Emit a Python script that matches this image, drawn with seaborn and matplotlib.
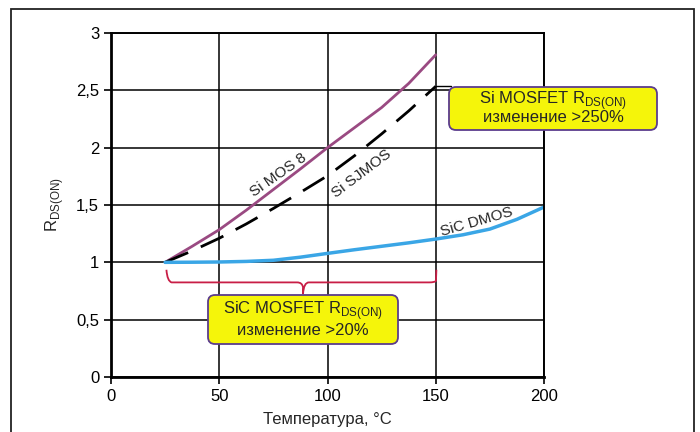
import numpy as np
import pandas as pd
import seaborn as sns
import matplotlib.pyplot as plt
from matplotlib.patches import FancyBboxPatch, Rectangle
from matplotlib.path import Path
from matplotlib.patches import PathPatch
from matplotlib.transforms import IdentityTransform

# данные
temp_si = [25, 37.5, 50, 62.5, 75, 87.5, 100, 112.5, 125, 137.5, 150]
si_mos8 = [1.0, 1.14, 1.285, 1.455, 1.635, 1.815, 2.0, 2.175, 2.35, 2.56, 2.81]
si_sjmos = [1.0, 1.1, 1.21, 1.335, 1.47, 1.61, 1.755, 1.93, 2.12, 2.32, 2.535]
temp_sic = [25, 37.5, 50, 62.5, 75, 87.5, 100, 112.5, 125, 137.5, 150, 162.5, 175, 187.5, 200]
sic_dmos = [1.0, 1.001, 1.003, 1.008, 1.018, 1.045, 1.078, 1.11, 1.14, 1.17, 1.203,
            1.24, 1.29, 1.375, 1.482]
x_ticks = [0, 50, 100, 150, 200]
y_ticks = [0, 0.5, 1, 1.5, 2, 2.5, 3]
y_ticklabels = ['0', '0,5', '1', '1,5', '2', '2,5', '3']

sns.set_style('white')
plt.rcParams['font.family'] = ['Liberation Sans', 'DejaVu Sans']

W, H = 700, 432
fig = plt.figure(figsize=(7, 4.32), dpi=100)
ax = fig.add_axes([111 / W, 1 - 377 / H, 433 / W, 344 / H])

# рамка вокруг рисунка
fig.patches.append(Rectangle((11 / W, -0.1), 683 / W, 1.1 - 9 / H, transform=fig.transFigure,
                             fill=False, ec='#222222', lw=1.3))

df_si = pd.DataFrame({'t': temp_si, 'mos8': si_mos8, 'sj': si_sjmos})
df_sic = pd.DataFrame({'t': temp_sic, 'dmos': sic_dmos})

sns.lineplot(data=df_si, x='t', y='mos8', ax=ax, color='#9a4a82', lw=2)
sns.lineplot(data=df_si, x='t', y='sj', ax=ax, color='black', lw=2)
ax.lines[-1].set_dashes([9, 5])
sns.lineplot(data=df_sic, x='t', y='dmos', ax=ax, color='#3aa6e6', lw=2.5)

ax.set_xlim(0, 200)
ax.set_ylim(0, 3)
ax.set_xticks(x_ticks)
ax.set_yticks(y_ticks)
ax.set_yticklabels(y_ticklabels)
ax.grid(True, color='black', lw=1.1)
ax.set_axisbelow(True)
for s in ax.spines.values():
    s.set_color('black')
    s.set_linewidth(1.4)
ax.spines['left'].set_linewidth(2)
ax.spines['bottom'].set_linewidth(2)
ax.tick_params(axis='both', direction='out', length=5, width=1.2, labelsize=12, colors='black',
               left=True, bottom=True)
ax.set_xlabel('Температура, °C', fontsize=12, labelpad=6)
ax.set_ylabel(r'R$_{\mathregular{DS(ON)}}$', fontsize=12, labelpad=7)

# подписи кривых
ax.text(77.5, 1.76, 'Si MOS 8', rotation=35, fontsize=11, ha='center', va='center')
ax.text(116, 1.775, 'Si SJMOS', rotation=37, fontsize=11, ha='center', va='center')
ax.text(169, 1.35, 'SiC DMOS', rotation=16, fontsize=11, ha='center', va='center')

# фигурная скобка
verts = [(25.6, 0.935), (26, 0.835), (28, 0.825), (30, 0.825),
         (86, 0.825), (88.4, 0.825), (88.7, 0.78), (88.7, 0.723),
         (88.7, 0.723), (89, 0.825), (91.4, 0.825),
         (147, 0.825), (149.8, 0.825), (150.1, 0.84), (150.3, 0.935)]
codes = [Path.MOVETO, Path.CURVE3, Path.CURVE3, Path.LINETO,
         Path.LINETO, Path.CURVE3, Path.CURVE3, Path.LINETO,
         Path.MOVETO, Path.CURVE3, Path.CURVE3,
         Path.LINETO, Path.CURVE3, Path.CURVE3, Path.LINETO]
ax.add_patch(PathPatch(Path(verts, codes), fill=False, ec='#c81e46', lw=1.3, clip_on=False))

# выноска к рамке
ax.plot([150, 157], [2.535, 2.535], color='black', lw=1, clip_on=False)


def callout(left, top, right, bottom, line1, line2):
    # координаты в пикселях от верхнего левого угла
    box = FancyBboxPatch((left, H - bottom), right - left, bottom - top,
                         boxstyle='round,pad=0,rounding_size=7',
                         transform=IdentityTransform(), fc='#f5f50a', ec='#5b3c8c', lw=1.3)
    fig.patches.append(box)
    cx = (left + right) / 2 / W
    h = bottom - top
    fig.text(cx, 1 - (top + h * 0.31) / H, line1, ha='center', va='center', fontsize=12)
    fig.text(cx, 1 - (top + h * 0.72) / H, line2, ha='center', va='center', fontsize=12)


callout(449, 87, 657, 130, r'Si MOSFET R$_{\mathregular{DS(ON)}}$', 'изменение >250%')
callout(208, 295, 398, 344, r'SiC MOSFET R$_{\mathregular{DS(ON)}}$', 'изменение >20%')

fig.savefig('out.png', dpi=100)
